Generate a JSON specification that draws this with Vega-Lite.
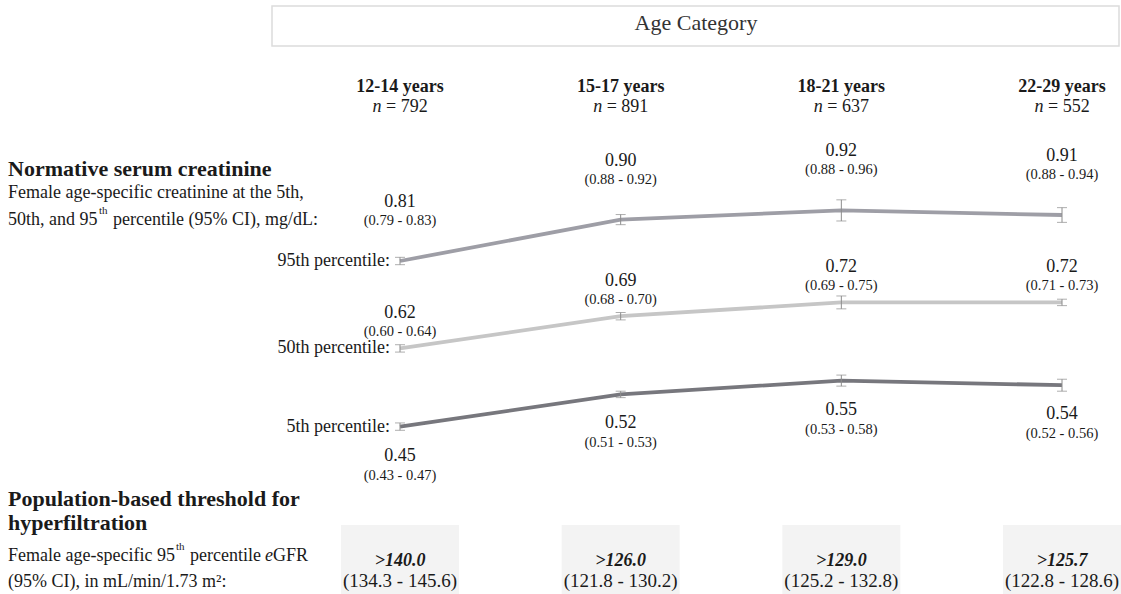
{
 "$schema": "https://vega.github.io/schema/vega-lite/v6.json",
 "width": 1121, "height": 594, "padding": 0,
 "autosize": {"type": "fit", "contains": "padding"},
 "background": "#ffffff",
 "config": {"view": {"stroke": null}, "text": {"font": "Liberation Serif", "color": "#1a1a1a", "baseline": "alphabetic"}},
 "datasets": {
  "cols": [
   {"age": "12-14 years", "n": 792, "egfr": ">140.0", "egfrCI": "(134.3 - 145.6)"},
   {"age": "15-17 years", "n": 891, "egfr": ">126.0", "egfrCI": "(121.8 - 130.2)"},
   {"age": "18-21 years", "n": 637, "egfr": ">129.0", "egfrCI": "(125.2 - 132.8)"},
   {"age": "22-29 years", "n": 552, "egfr": ">125.7", "egfrCI": "(122.8 - 128.6)"}
  ],
  "creat": [
   {"age": "12-14 years", "pct": "95th percentile:", "value": 0.81, "ci": "(0.79 - 0.83)", "barLo": 0.802, "barHi": 0.818},
   {"age": "15-17 years", "pct": "95th percentile:", "value": 0.90, "ci": "(0.88 - 0.92)", "barLo": 0.889, "barHi": 0.911},
   {"age": "18-21 years", "pct": "95th percentile:", "value": 0.92, "ci": "(0.88 - 0.96)", "barLo": 0.897, "barHi": 0.943},
   {"age": "22-29 years", "pct": "95th percentile:", "value": 0.91, "ci": "(0.88 - 0.94)", "barLo": 0.894, "barHi": 0.926},
   {"age": "12-14 years", "pct": "50th percentile:", "value": 0.62, "ci": "(0.60 - 0.64)", "barLo": 0.612, "barHi": 0.628},
   {"age": "15-17 years", "pct": "50th percentile:", "value": 0.69, "ci": "(0.68 - 0.70)", "barLo": 0.682, "barHi": 0.698},
   {"age": "18-21 years", "pct": "50th percentile:", "value": 0.72, "ci": "(0.69 - 0.75)", "barLo": 0.706, "barHi": 0.734},
   {"age": "22-29 years", "pct": "50th percentile:", "value": 0.72, "ci": "(0.71 - 0.73)", "barLo": 0.713, "barHi": 0.727},
   {"age": "12-14 years", "pct": "5th percentile:", "value": 0.45, "ci": "(0.43 - 0.47)", "barLo": 0.442, "barHi": 0.458},
   {"age": "15-17 years", "pct": "5th percentile:", "value": 0.52, "ci": "(0.51 - 0.53)", "barLo": 0.513, "barHi": 0.527},
   {"age": "18-21 years", "pct": "5th percentile:", "value": 0.55, "ci": "(0.53 - 0.58)", "barLo": 0.538, "barHi": 0.562},
   {"age": "22-29 years", "pct": "5th percentile:", "value": 0.54, "ci": "(0.52 - 0.56)", "barLo": 0.527, "barHi": 0.553}
  ]
 },
 "layer": [
  {
   "data": {"values": [{"label": "Age Category"}]},
   "mark": {"type": "rect", "fill": "#ffffff", "stroke": "#dcdcdc", "strokeWidth": 1.5},
   "encoding": {"x": {"value": 272}, "x2": {"value": 1119}, "y": {"value": 6}, "y2": {"value": 46}}
  },
  {
   "data": {"values": [{"label": "Age Category"}]},
   "mark": {"type": "text", "fontSize": 22, "color": "#333333", "align": "center"},
   "encoding": {"x": {"value": 696}, "y": {"value": 30}, "text": {"field": "label"}}
  },
  {
   "data": {"name": "cols"},
   "mark": {"type": "bar", "width": 118, "color": "#f3f3f3"},
   "encoding": {
    "x": {"field": "age", "type": "nominal", "scale": {"type": "point", "padding": 0, "domain": ["12-14 years", "15-17 years", "18-21 years", "22-29 years"], "range": [400, 1062]}, "axis": null},
    "y": {"value": 525}, "y2": {"value": 594}
   }
  },
  {
   "data": {"name": "cols"},
   "mark": {"type": "text", "fontSize": 18, "fontWeight": "bold", "align": "center"},
   "encoding": {
    "x": {"field": "age", "type": "nominal", "scale": {"type": "point", "padding": 0, "domain": ["12-14 years", "15-17 years", "18-21 years", "22-29 years"], "range": [400, 1062]}, "axis": null},
    "y": {"value": 92}, "text": {"field": "age"}
   }
  },
  {
   "data": {"name": "cols"},
   "mark": {"type": "text", "fontSize": 18, "fontStyle": "italic", "align": "left", "dx": -27.5},
   "encoding": {
    "x": {"field": "age", "type": "nominal", "scale": {"type": "point", "padding": 0, "domain": ["12-14 years", "15-17 years", "18-21 years", "22-29 years"], "range": [400, 1062]}, "axis": null},
    "y": {"value": 112}, "text": {"value": "n"}
   }
  },
  {
   "data": {"name": "cols"},
   "transform": [{"calculate": "'= ' + datum.n", "as": "nLabel"}],
   "mark": {"type": "text", "fontSize": 18, "align": "left", "dx": -14},
   "encoding": {
    "x": {"field": "age", "type": "nominal", "scale": {"type": "point", "padding": 0, "domain": ["12-14 years", "15-17 years", "18-21 years", "22-29 years"], "range": [400, 1062]}, "axis": null},
    "y": {"value": 112}, "text": {"field": "nLabel"}
   }
  },
  {
   "data": {"name": "cols"},
   "mark": {"type": "text", "fontSize": 18, "fontWeight": "bold", "fontStyle": "italic", "align": "center"},
   "encoding": {
    "x": {"field": "age", "type": "nominal", "scale": {"type": "point", "padding": 0, "domain": ["12-14 years", "15-17 years", "18-21 years", "22-29 years"], "range": [400, 1062]}, "axis": null},
    "y": {"value": 566}, "text": {"field": "egfr"}
   }
  },
  {
   "data": {"name": "cols"},
   "mark": {"type": "text", "fontSize": 19, "align": "center"},
   "encoding": {
    "x": {"field": "age", "type": "nominal", "scale": {"type": "point", "padding": 0, "domain": ["12-14 years", "15-17 years", "18-21 years", "22-29 years"], "range": [400, 1062]}, "axis": null},
    "y": {"value": 587}, "text": {"field": "egfrCI"}
   }
  },
  {
   "data": {"name": "creat"},
   "mark": {"type": "line", "strokeWidth": 3.8},
   "encoding": {
    "x": {"field": "age", "type": "nominal", "scale": {"type": "point", "padding": 0, "domain": ["12-14 years", "15-17 years", "18-21 years", "22-29 years"], "range": [400, 1062]}, "axis": null},
    "y": {"field": "value", "type": "quantitative", "scale": {"domain": [0.0861, 1.3774], "nice": false, "zero": false}, "axis": null},
    "color": {"field": "pct", "type": "nominal", "scale": {"domain": ["95th percentile:", "50th percentile:", "5th percentile:"], "range": ["#9e9ea6", "#c6c6c6", "#77777d"]}, "legend": null}
   }
  },
  {
   "data": {"name": "creat"},
   "mark": {"type": "rule", "color": "#8c8c8c", "strokeWidth": 1},
   "encoding": {
    "x": {"field": "age", "type": "nominal", "scale": {"type": "point", "padding": 0, "domain": ["12-14 years", "15-17 years", "18-21 years", "22-29 years"], "range": [400, 1062]}, "axis": null},
    "y": {"field": "barLo", "type": "quantitative"},
    "y2": {"field": "barHi"}
   }
  },
  {
   "data": {"name": "creat"},
   "mark": {"type": "tick", "orient": "horizontal", "size": 10, "thickness": 1, "color": "#8c8c8c"},
   "encoding": {
    "x": {"field": "age", "type": "nominal", "scale": {"type": "point", "padding": 0, "domain": ["12-14 years", "15-17 years", "18-21 years", "22-29 years"], "range": [400, 1062]}, "axis": null},
    "y": {"field": "barLo", "type": "quantitative"}
   }
  },
  {
   "data": {"name": "creat"},
   "mark": {"type": "tick", "orient": "horizontal", "size": 10, "thickness": 1, "color": "#8c8c8c"},
   "encoding": {
    "x": {"field": "age", "type": "nominal", "scale": {"type": "point", "padding": 0, "domain": ["12-14 years", "15-17 years", "18-21 years", "22-29 years"], "range": [400, 1062]}, "axis": null},
    "y": {"field": "barHi", "type": "quantitative"}
   }
  },
  {
   "data": {"name": "creat"},
   "transform": [{"filter": "datum.pct == '95th percentile:'"}],
   "mark": {"type": "text", "fontSize": 18, "align": "center", "dy": -54},
   "encoding": {
    "x": {"field": "age", "type": "nominal", "scale": {"type": "point", "padding": 0, "domain": ["12-14 years", "15-17 years", "18-21 years", "22-29 years"], "range": [400, 1062]}, "axis": null},
    "y": {"field": "value", "type": "quantitative"},
    "text": {"field": "value", "type": "quantitative", "format": ".2f"}
   }
  },
  {
   "data": {"name": "creat"},
   "transform": [{"filter": "datum.pct == '95th percentile:'"}],
   "mark": {"type": "text", "fontSize": 14.5, "align": "center", "dy": -36},
   "encoding": {
    "x": {"field": "age", "type": "nominal", "scale": {"type": "point", "padding": 0, "domain": ["12-14 years", "15-17 years", "18-21 years", "22-29 years"], "range": [400, 1062]}, "axis": null},
    "y": {"field": "value", "type": "quantitative"},
    "text": {"field": "ci"}
   }
  },
  {
   "data": {"name": "creat"},
   "transform": [{"filter": "datum.pct == '50th percentile:'"}],
   "mark": {"type": "text", "fontSize": 18, "align": "center", "dy": -30},
   "encoding": {
    "x": {"field": "age", "type": "nominal", "scale": {"type": "point", "padding": 0, "domain": ["12-14 years", "15-17 years", "18-21 years", "22-29 years"], "range": [400, 1062]}, "axis": null},
    "y": {"field": "value", "type": "quantitative"},
    "text": {"field": "value", "type": "quantitative", "format": ".2f"}
   }
  },
  {
   "data": {"name": "creat"},
   "transform": [{"filter": "datum.pct == '50th percentile:'"}],
   "mark": {"type": "text", "fontSize": 14.5, "align": "center", "dy": -12},
   "encoding": {
    "x": {"field": "age", "type": "nominal", "scale": {"type": "point", "padding": 0, "domain": ["12-14 years", "15-17 years", "18-21 years", "22-29 years"], "range": [400, 1062]}, "axis": null},
    "y": {"field": "value", "type": "quantitative"},
    "text": {"field": "ci"}
   }
  },
  {
   "data": {"name": "creat"},
   "transform": [{"filter": "datum.pct == '5th percentile:'"}],
   "mark": {"type": "text", "fontSize": 18, "align": "center", "dy": 34},
   "encoding": {
    "x": {"field": "age", "type": "nominal", "scale": {"type": "point", "padding": 0, "domain": ["12-14 years", "15-17 years", "18-21 years", "22-29 years"], "range": [400, 1062]}, "axis": null},
    "y": {"field": "value", "type": "quantitative"},
    "text": {"field": "value", "type": "quantitative", "format": ".2f"}
   }
  },
  {
   "data": {"name": "creat"},
   "transform": [{"filter": "datum.pct == '5th percentile:'"}],
   "mark": {"type": "text", "fontSize": 14.5, "align": "center", "dy": 53},
   "encoding": {
    "x": {"field": "age", "type": "nominal", "scale": {"type": "point", "padding": 0, "domain": ["12-14 years", "15-17 years", "18-21 years", "22-29 years"], "range": [400, 1062]}, "axis": null},
    "y": {"field": "value", "type": "quantitative"},
    "text": {"field": "ci"}
   }
  },
  {
   "data": {"name": "creat"},
   "transform": [{"filter": "datum.age == '12-14 years'"}],
   "mark": {"type": "text", "fontSize": 18, "align": "right", "dx": -10, "dy": 5},
   "encoding": {
    "x": {"field": "age", "type": "nominal", "scale": {"type": "point", "padding": 0, "domain": ["12-14 years", "15-17 years", "18-21 years", "22-29 years"], "range": [400, 1062]}, "axis": null},
    "y": {"field": "value", "type": "quantitative"},
    "text": {"field": "pct"}
   }
  },
  {
   "data": {"values": [{"t": "Normative serum creatinine"}]},
   "mark": {"type": "text", "fontSize": 22, "fontWeight": "bold", "align": "left"},
   "encoding": {"x": {"value": 8}, "y": {"value": 176}, "text": {"field": "t"}}
  },
  {
   "data": {"values": [{"t": "Female age-specific creatinine at the 5th,"}]},
   "mark": {"type": "text", "fontSize": 18, "align": "left"},
   "encoding": {"x": {"value": 8}, "y": {"value": 198}, "text": {"field": "t"}}
  },
  {
   "data": {"values": [{"t": "50th, and 95"}]},
   "mark": {"type": "text", "fontSize": 18, "align": "left"},
   "encoding": {"x": {"value": 8}, "y": {"value": 225}, "text": {"field": "t"}}
  },
  {
   "data": {"values": [{"t": "th"}]},
   "mark": {"type": "text", "fontSize": 11, "align": "left"},
   "encoding": {"x": {"value": 99}, "y": {"value": 214}, "text": {"field": "t"}}
  },
  {
   "data": {"values": [{"t": "percentile (95% CI), mg/dL:"}]},
   "mark": {"type": "text", "fontSize": 18, "align": "left"},
   "encoding": {"x": {"value": 113}, "y": {"value": 225}, "text": {"field": "t"}}
  },
  {
   "data": {"values": [{"t": ["Population-based threshold for", "hyperfiltration"]}]},
   "mark": {"type": "text", "fontSize": 22, "fontWeight": "bold", "align": "left", "lineHeight": 24},
   "encoding": {"x": {"value": 8}, "y": {"value": 506}, "text": {"field": "t"}}
  },
  {
   "data": {"values": [{"t": "Female age-specific 95"}]},
   "mark": {"type": "text", "fontSize": 18, "align": "left"},
   "encoding": {"x": {"value": 8}, "y": {"value": 561}, "text": {"field": "t"}}
  },
  {
   "data": {"values": [{"t": "th"}]},
   "mark": {"type": "text", "fontSize": 11, "align": "left"},
   "encoding": {"x": {"value": 176}, "y": {"value": 550}, "text": {"field": "t"}}
  },
  {
   "data": {"values": [{"t": "percentile"}]},
   "mark": {"type": "text", "fontSize": 18, "align": "left"},
   "encoding": {"x": {"value": 190}, "y": {"value": 561}, "text": {"field": "t"}}
  },
  {
   "data": {"values": [{"t": "e"}]},
   "mark": {"type": "text", "fontSize": 18, "fontStyle": "italic", "align": "left"},
   "encoding": {"x": {"value": 265}, "y": {"value": 561}, "text": {"field": "t"}}
  },
  {
   "data": {"values": [{"t": "GFR"}]},
   "mark": {"type": "text", "fontSize": 18, "align": "left"},
   "encoding": {"x": {"value": 273}, "y": {"value": 561}, "text": {"field": "t"}}
  },
  {
   "data": {"values": [{"t": "(95% CI), in mL/min/1.73 m²:"}]},
   "mark": {"type": "text", "fontSize": 18, "align": "left"},
   "encoding": {"x": {"value": 8}, "y": {"value": 587}, "text": {"field": "t"}}
  }
 ]
}
